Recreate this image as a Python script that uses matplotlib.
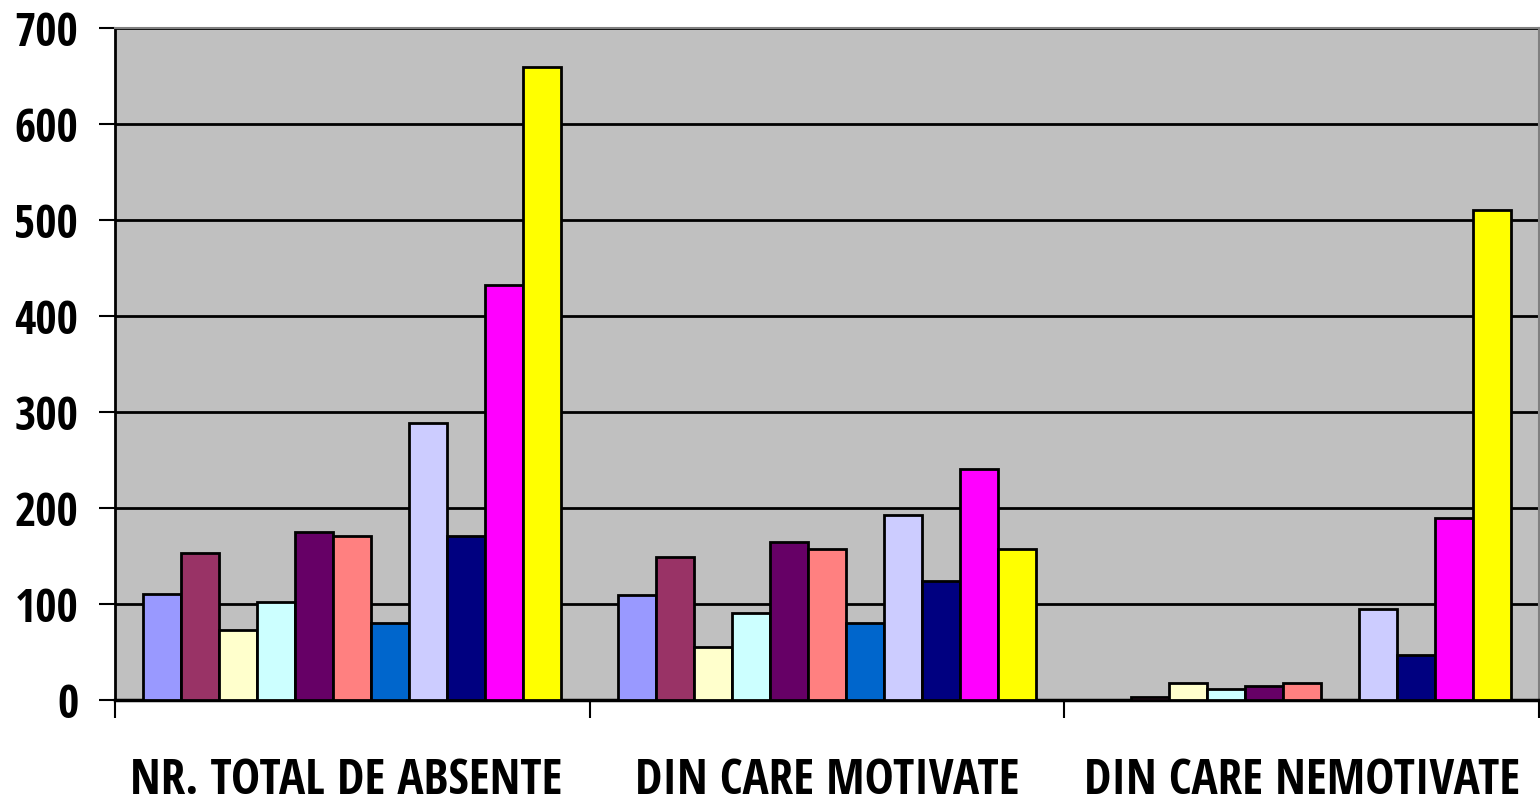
import matplotlib
matplotlib.use("Agg")
import matplotlib.pyplot as plt
import matplotlib.font_manager as fm
import matplotlib.transforms as mtransforms
import numpy as np

categories = ["NR. TOTAL DE ABSENTE", "DIN CARE MOTIVATE", "DIN CARE NEMOTIVATE"]
series_colors = ["#9999FF", "#993366", "#FFFFCC", "#CCFFFF", "#660066", "#FF8080",
                 "#0066CC", "#CCCCFF", "#000080", "#FF00FF", "#FFFF00"]
# values per series: [total, motivate, nemotivate]
s1 = [110, 109, 0]
s2 = [153, 149, 3]
s3 = [73, 55, 18]
s4 = [102, 91, 11]
s5 = [175, 165, 15]
s6 = [171, 157, 18]
s7 = [80, 80, 0]
s8 = [289, 193, 95]
s9 = [171, 124, 47]
s10 = [432, 241, 190]
s11 = [659, 157, 510]
series = [s1, s2, s3, s4, s5, s6, s7, s8, s9, s10, s11]
yticks = [0, 100, 200, 300, 400, 500, 600, 700]

names = {f.name for f in fm.fontManager.ttflist}
fam = "DejaVu Sans"
for cand in ["Open Sans Condensed", "Liberation Sans Narrow", "Carlito"]:
    if cand in names:
        fam = cand
        break

fig = plt.figure(figsize=(15.40, 8.07), dpi=100)
fig.patch.set_facecolor("white")
ax = fig.add_axes([115/1540, 1-700/807, (1539-115)/1540, (700-28)/807])
ax.set_facecolor("#C0C0C0")

n = len(series)
gap = 1.5
slots = n + gap
w = 1.0 / slots
for j, (vals, col) in enumerate(zip(series, series_colors)):
    xs = np.arange(len(categories)) + (gap/2 + j + 0.5) / slots
    ax.bar(xs, vals, width=w, color=col, edgecolor="black", linewidth=2.0, zorder=3)

ax.set_xlim(0, len(categories))
ax.set_ylim(0, 700)
ax.yaxis.grid(True, color="black", linewidth=2.0, zorder=1)
ax.set_axisbelow(True)
ax.set_yticks(yticks)
ax.set_xticks(np.arange(len(categories) + 1))
ax.set_xticklabels([])

# fit font sizes to the reference's text widths
renderer = fig.canvas.get_renderer()
def fit_size(s, target_px, base=30):
    t = fig.text(0, 0, s, fontsize=base, fontweight="bold", family=fam)
    wpx = t.get_window_extent(renderer).width
    t.remove()
    return base * target_px / wpx

ysize = fit_size("700", 64)
xsize = fit_size(categories[0], 432)

ax.set_yticklabels([str(t) for t in yticks], fontsize=ysize, fontweight="bold", family=fam)
ax.tick_params(axis="x", which="major", direction="out", length=13, width=1.5, color="black")
ax.tick_params(axis="y", direction="out", length=11.5, width=1.5, color="black", pad=15)

trans = mtransforms.blended_transform_factory(ax.transData, fig.transFigure)
xoff = [-0.012, 0.0, 0.0]
for i, c in enumerate(categories):
    ax.text(i + 0.5 + xoff[i], 1.5/807, c, transform=trans, ha="center", va="bottom",
            fontsize=xsize, fontweight="bold", family=fam, clip_on=False)

ax.spines["left"].set_color("black")
ax.spines["left"].set_linewidth(2)
ax.spines["bottom"].set_color("black")
ax.spines["bottom"].set_linewidth(2.5)
ax.spines["top"].set_color("#808080")
ax.spines["top"].set_linewidth(1.5)
ax.spines["right"].set_color("#808080")
ax.spines["right"].set_linewidth(1.5)

fig.savefig("out.png", dpi=100, facecolor="white")
